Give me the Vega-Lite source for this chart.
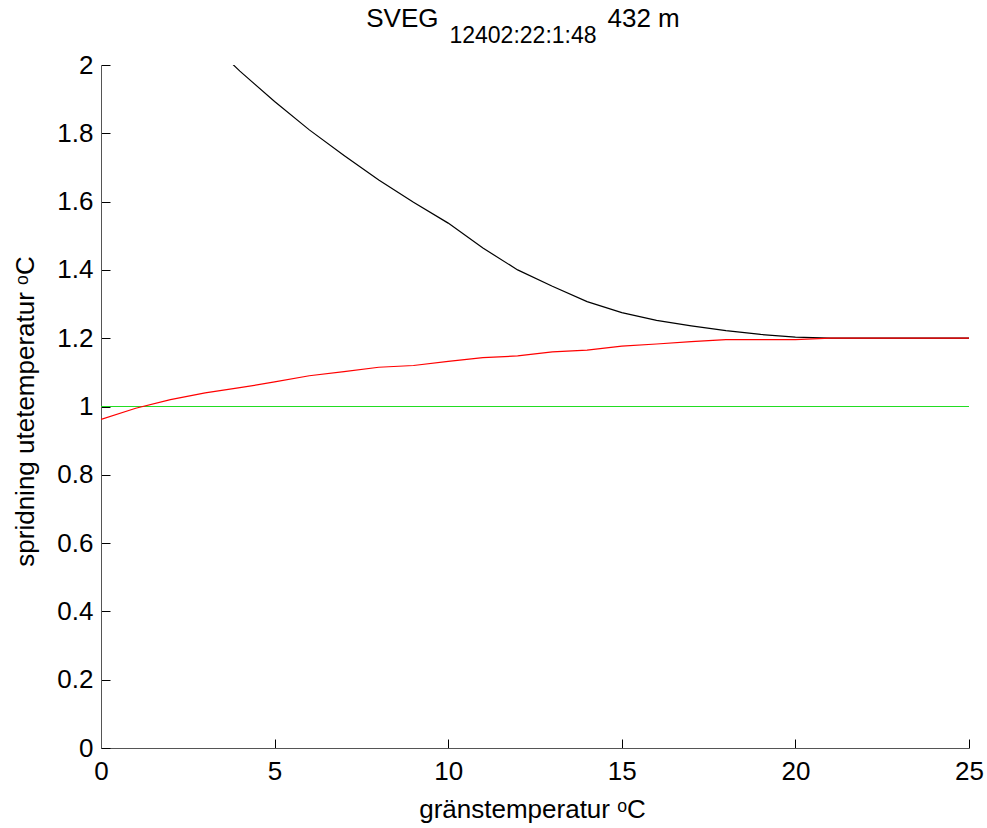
{
  "$schema": "https://vega.github.io/schema/vega-lite/v6.json",
  "autosize": {"type": "none"},
  "width": 868,
  "height": 683,
  "padding": {"left": 101, "top": 65, "right": 18, "bottom": 80},
  "background": "white",
  "config": {
    "view": {"stroke": null},
    "font": "Liberation Sans"
  },
  "title": {
    "text": "SVEG\u2003\u2003\u2003\u2003\u2003\u2003\u2002432 m",
    "subtitle": "12402:22:1:48\u2002",
    "fontSize": 26,
    "fontWeight": "normal",
    "subtitleFontSize": 23,
    "subtitlePadding": -7,
    "color": "black",
    "subtitleColor": "black",
    "anchor": "middle",
    "offset": 4,
    "dx": -12
  },
  "data": {
    "values": [
      {"x": 3, "y": 2.08, "s": "black"},
      {"x": 4, "y": 1.982, "s": "black"},
      {"x": 5, "y": 1.893, "s": "black"},
      {"x": 6, "y": 1.81, "s": "black"},
      {"x": 7, "y": 1.735, "s": "black"},
      {"x": 8, "y": 1.663, "s": "black"},
      {"x": 9, "y": 1.598, "s": "black"},
      {"x": 10, "y": 1.537, "s": "black"},
      {"x": 11, "y": 1.464, "s": "black"},
      {"x": 12, "y": 1.4, "s": "black"},
      {"x": 13, "y": 1.352, "s": "black"},
      {"x": 14, "y": 1.307, "s": "black"},
      {"x": 15, "y": 1.275, "s": "black"},
      {"x": 16, "y": 1.252, "s": "black"},
      {"x": 17, "y": 1.236, "s": "black"},
      {"x": 18, "y": 1.222, "s": "black"},
      {"x": 19, "y": 1.211, "s": "black"},
      {"x": 20, "y": 1.203, "s": "black"},
      {"x": 21, "y": 1.2, "s": "black"},
      {"x": 22, "y": 1.2, "s": "black"},
      {"x": 23, "y": 1.2, "s": "black"},
      {"x": 24, "y": 1.2, "s": "black"},
      {"x": 25, "y": 1.2, "s": "black"},
      {"x": 0, "y": 1.0, "s": "green"},
      {"x": 25, "y": 1.0, "s": "green"},
      {"x": 0, "y": 0.962, "s": "red"},
      {"x": 1, "y": 0.995, "s": "red"},
      {"x": 2, "y": 1.02, "s": "red"},
      {"x": 3, "y": 1.04, "s": "red"},
      {"x": 4, "y": 1.055, "s": "red"},
      {"x": 5, "y": 1.072, "s": "red"},
      {"x": 6, "y": 1.09, "s": "red"},
      {"x": 7, "y": 1.102, "s": "red"},
      {"x": 8, "y": 1.115, "s": "red"},
      {"x": 9, "y": 1.12, "s": "red"},
      {"x": 10, "y": 1.132, "s": "red"},
      {"x": 11, "y": 1.143, "s": "red"},
      {"x": 12, "y": 1.148, "s": "red"},
      {"x": 13, "y": 1.16, "s": "red"},
      {"x": 14, "y": 1.165, "s": "red"},
      {"x": 15, "y": 1.177, "s": "red"},
      {"x": 16, "y": 1.183, "s": "red"},
      {"x": 17, "y": 1.19, "s": "red"},
      {"x": 18, "y": 1.196, "s": "red"},
      {"x": 19, "y": 1.196, "s": "red"},
      {"x": 20, "y": 1.196, "s": "red"},
      {"x": 21, "y": 1.2, "s": "red"},
      {"x": 22, "y": 1.2, "s": "red"},
      {"x": 23, "y": 1.2, "s": "red"},
      {"x": 24, "y": 1.2, "s": "red"},
      {"x": 25, "y": 1.2, "s": "red"}
    ]
  },
  "mark": {"type": "line", "clip": true, "strokeWidth": 1.2},
  "encoding": {
    "x": {
      "field": "x",
      "type": "quantitative",
      "scale": {"domain": [0, 25], "nice": false, "zero": false},
      "axis": {
        "values": [0, 5, 10, 15, 20, 25],
        "grid": false,
        "tickSize": -9,
        "tickColor": "black",
        "domainColor": "#555555",
        "labelFontSize": 26,
        "labelColor": "black",
        "labelPadding": 19,
        "labelFlush": false,
        "title": "gränstemperatur  ᵒC",
        "titleFontSize": 26,
        "titleFontWeight": "normal",
        "titleColor": "black",
        "titleX": 431,
        "titleY": 69,
        "titleBaseline": "alphabetic",
        "titleAlign": "center"
      }
    },
    "y": {
      "field": "y",
      "type": "quantitative",
      "scale": {"domain": [0, 2], "nice": false},
      "axis": {
        "values": [0, 0.2, 0.4, 0.6, 0.8, 1, 1.2, 1.4, 1.6, 1.8, 2],
        "format": "~g",
        "grid": false,
        "tickSize": -9,
        "tickColor": "black",
        "domainColor": "#555555",
        "labelFontSize": 26,
        "labelColor": "black",
        "labelPadding": 17,
        "labelFlush": false,
        "title": "spridning utetemperatur  ᵒC",
        "titleFontSize": 26,
        "titleFontWeight": "normal",
        "titleColor": "black",
        "titleAngle": -90,
        "titleX": -76,
        "titleY": 346,
        "titleBaseline": "middle",
        "titleAlign": "center"
      }
    },
    "color": {
      "field": "s",
      "type": "nominal",
      "scale": {"domain": ["black", "green", "red"], "range": ["#000000", "#22dd22", "#ff0000"]},
      "legend": null
    },
    "order": {"field": "x", "type": "quantitative"}
  }
}
